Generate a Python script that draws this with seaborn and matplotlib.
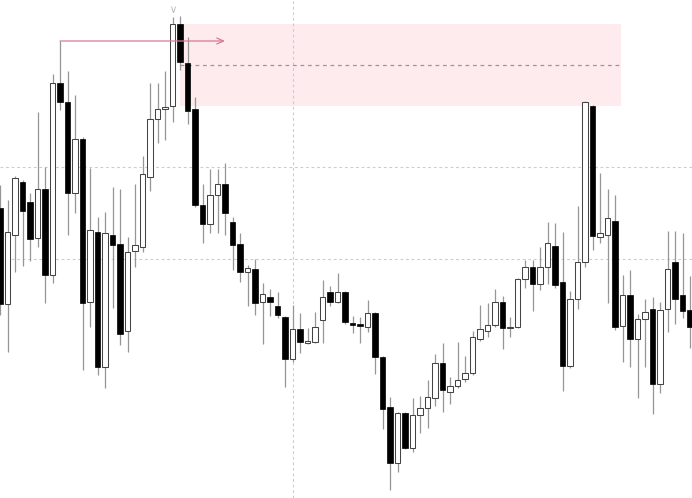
import numpy as np
import pandas as pd
import matplotlib
matplotlib.use("Agg")
import matplotlib.pyplot as plt
import matplotlib.transforms as mtransforms
import seaborn as sns

# Candle data (screen levels, converted to price below)
open_lv = [208, 304, 235, 182, 202, 238, 189, 275, 83, 102, 193, 139, 302, 232, 367, 235,
           244, 331, 251, 247, 177, 119, 109, 106, 24, 63, 109, 205, 224, 195, 184, 222,
           244, 272, 269, 302, 297, 306, 317, 359, 329, 343, 342, 320, 292, 302, 292, 323,
           324, 327, 313, 357, 407, 463, 413, 448, 415, 408, 398, 363, 392, 386, 379, 373,
           339, 331, 325, 302, 328, 327, 279, 267, 284, 267, 246, 282, 366, 299, 262, 106,
           237, 235, 221, 326, 295, 339, 319, 309, 384, 309, 262, 295, 310]
high_lv = [185, 200, 176, 180, 193, 112, 167, 74, 41, 71, 95, 137, 168, 217, 212, 187,
           189, 237, 184, 156, 83, 83, 71, 17, 16, 37, 97, 184, 169, 169, 163, 217,
           233, 265, 259, 283, 289, 292, 316, 305, 313, 328, 312, 280, 286, 273, 291, 316,
           317, 300, 312, 356, 397, 412, 412, 398, 396, 380, 354, 343, 377, 342, 356, 331,
           305, 303, 289, 296, 317, 278, 260, 260, 247, 222, 223, 232, 291, 206, 101, 105,
           173, 189, 195, 275, 270, 314, 299, 297, 302, 231, 231, 233, 276]
low_lv = [315, 352, 272, 266, 261, 247, 303, 283, 110, 235, 213, 370, 327, 375, 388, 308,
          345, 352, 267, 252, 191, 143, 140, 122, 70, 124, 207, 243, 233, 233, 235, 270,
          282, 306, 315, 344, 316, 318, 387, 362, 353, 344, 343, 343, 306, 303, 324, 333,
          343, 332, 374, 429, 490, 472, 449, 452, 433, 428, 406, 412, 404, 388, 382, 375,
          341, 337, 327, 349, 337, 328, 288, 311, 290, 284, 288, 391, 368, 309, 267, 250,
          243, 303, 330, 362, 367, 398, 367, 414, 393, 332, 324, 318, 348]
close_lv = [304, 232, 178, 211, 239, 189, 275, 83, 102, 193, 139, 303, 230, 367, 233, 245,
            334, 252, 245, 174, 119, 109, 107, 24, 62, 111, 205, 224, 195, 184, 213, 245,
            272, 268, 303, 294, 302, 315, 359, 329, 342, 341, 327, 297, 302, 292, 322, 325,
            326, 313, 357, 409, 463, 413, 448, 415, 408, 397, 363, 390, 386, 380, 373, 337,
            329, 325, 302, 328, 327, 279, 267, 284, 267, 243, 285, 366, 299, 262, 102, 236,
            233, 218, 327, 295, 339, 319, 312, 384, 310, 269, 299, 311, 327]

TOP = 498  # level -> price conversion (price = TOP - level)
df = pd.DataFrame({
    "idx": np.arange(len(open_lv)),
    "open": TOP - np.array(open_lv, float),
    "high": TOP - np.array(high_lv, float),
    "low": TOP - np.array(low_lv, float),
    "close": TOP - np.array(close_lv, float),
})

# Annotation levels (from the reference)
zone_start, zone_end = 24, 82.8      # candle index range of the supply zone
zone_candle = 23                     # candle whose body defines the zone
liq_from, liq_to = 8, 30             # arrow from candle 8 high to candle 30
grid_prices = [TOP - 259, TOP - 167]
grid_x = [39]

sns.set_theme(style="white")
fig = plt.figure(figsize=(6.92, 4.98), dpi=100)
ax = fig.add_axes([0, 0, 1, 1])

# grid
ax.set_yticks(grid_prices)
ax.set_xticks(grid_x)
ax.grid(True, color="#cccccc", linestyle=(0, (2.5, 2.5)), linewidth=0.8)
ax.set_axisbelow(True)

# supply zone
zc = df.loc[zone_candle]
ztop, zbot = max(zc.open, zc.close), min(zc.open, zc.close)
ax.fill_between([zone_start, zone_end], zbot, ztop, color="#fdebee", lw=0, zorder=0.5)
ax.hlines((ztop + zbot) / 2, zone_start, zone_end, colors="#a99097",
          linestyles=(0, (3, 3)), lw=0.9, zorder=0.6)

# liquidity arrow
lvl = df.loc[liq_from, "high"]
ax.annotate("", xy=(liq_to, lvl), xytext=(liq_from, lvl),
            arrowprops=dict(arrowstyle="->,head_length=0.4,head_width=0.18",
                            color="#d87a95", lw=0.9, shrinkA=0, shrinkB=0), zorder=3)

# wicks
ax.vlines(df.idx, df.low, df.high, colors="#969696", lw=0.9, zorder=1)

# bodies
bull = df.close >= df.open
bottom = np.minimum(df.open, df.close)
height = np.maximum(np.abs(df.close - df.open), 1.2)
ax.bar(df.idx[bull], height[bull], bottom=bottom[bull], width=0.74,
       color="white", edgecolor="#444444", linewidth=0.75, zorder=2)
ax.bar(df.idx[~bull], height[~bull], bottom=bottom[~bull], width=0.74,
       color="black", edgecolor="black", linewidth=0.5, zorder=2)

# chevron over the swing high
off = mtransforms.offset_copy(ax.transData, fig=fig, x=0, y=6, units="points")
mark = df.loc[[zone_candle]]
sns.scatterplot(data=mark, x="idx", y="high", marker=r"$\vee$", s=22,
                color="#808080", ax=ax, transform=off, legend=False, zorder=3)

ax.set_xlim(0, 692 / 7.5)
ax.set_ylim(0, TOP)
ax.set_xlabel("")
ax.set_ylabel("")
ax.tick_params(length=0, labelbottom=False, labelleft=False)
for s in ax.spines.values():
    s.set_visible(False)

fig.savefig("out.png", dpi=100)
